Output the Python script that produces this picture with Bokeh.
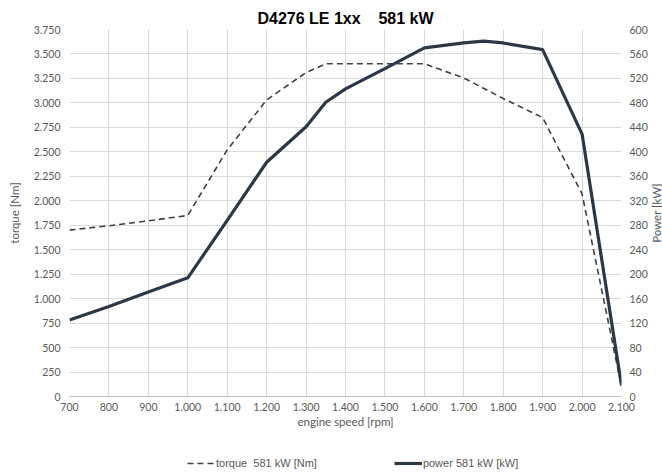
from bokeh.plotting import figure
from bokeh.models import Range1d, LinearAxis, FixedTicker, Legend, LegendItem, Title
from bokeh.layouts import column, row
from bokeh.embed import file_html
from bokeh.resources import INLINE

# ---- data ----
rpm_torque = [700, 800, 900, 1000, 1100, 1200, 1300, 1350, 1400, 1500, 1600, 1700, 1800, 1900, 2000, 2100]
torque_nm = [1700, 1745, 1795, 1850, 2520, 3030, 3310, 3400, 3400, 3400, 3400, 3255, 3045, 2850, 2070, 100]

rpm_power = [700, 800, 900, 1000, 1100, 1200, 1300, 1350, 1400, 1500, 1600, 1700, 1750, 1800, 1900, 2000, 2100]
power_kw = [125, 147, 171, 194, 288, 383, 441, 481, 503, 536, 570, 578, 581, 578, 567, 429, 18]

x_ticks = [700, 800, 900, 1000, 1100, 1200, 1300, 1400, 1500, 1600, 1700, 1800, 1900, 2000, 2100]
torque_ticks = [0, 250, 500, 750, 1000, 1250, 1500, 1750, 2000, 2250, 2500, 2750, 3000, 3250, 3500, 3750]
power_ticks = [0, 40, 80, 120, 160, 200, 240, 280, 320, 360, 400, 440, 480, 520, 560, 600]

title_text = "D4276 LE 1xx\u00a0\u00a0\u00a0 581 kW"
torque_label = "torque\u00a0 581 kW [Nm]"
power_label = "power 581 kW [kW]"
power_axis_title = "Power [kW]"


def dotted(v):
    return f"{v:,}".replace(",", ".")


GRID = "#d9d9d9"
TICK = "#595959"
FONT = "Lato"
TORQUE_STYLE = dict(line_color="#404040", line_width=1.6, line_dash="6 4")
POWER_STYLE = dict(line_color="#2d3846", line_width=3.2)

p = figure(width=650, height=440, output_backend="svg", toolbar_location=None,
           x_range=Range1d(700, 2100), y_range=Range1d(0, 3750),
           min_border_left=69, min_border_right=28, min_border_top=29, min_border_bottom=44)
p.extra_y_ranges = {"power": Range1d(0, 600)}

p.title.text = title_text
p.title.align = "center"
p.title.text_font = "Liberation Sans"
p.title.text_font_size = "16px"
p.title.text_font_style = "bold"
p.title.text_color = "#000000"
p.title.standoff = 6
p.title.offset = 4
p.outline_line_color = None

r_t = p.line(rpm_torque, torque_nm, **TORQUE_STYLE)
r_p = p.line(rpm_power, power_kw, y_range_name="power", **POWER_STYLE)

right = LinearAxis(y_range_name="power")
p.add_layout(right, "right")

p.xaxis.ticker = FixedTicker(ticks=x_ticks)
p.xaxis.major_label_overrides = {t: dotted(t) for t in x_ticks}
p.yaxis[0].ticker = FixedTicker(ticks=torque_ticks)
p.yaxis[0].major_label_overrides = {t: dotted(t) for t in torque_ticks}
right.ticker = FixedTicker(ticks=power_ticks)

p.xaxis.axis_label = "engine speed [rpm]"
p.yaxis[0].axis_label = "torque [Nm]"

for ax in p.xaxis + p.yaxis:
    ax.major_tick_line_color = None
    ax.minor_tick_line_color = None
    ax.major_tick_out = 0
    ax.major_tick_in = 0
    ax.axis_line_color = None
    ax.major_label_text_font = FONT
    ax.major_label_text_font_size = "10.5px"
    ax.major_label_text_color = TICK
    ax.axis_label_text_font = FONT
    ax.axis_label_text_font_size = "11.5px"
    ax.axis_label_text_color = TICK
    ax.axis_label_text_font_style = "normal"

p.xaxis.axis_line_color = "#bfbfbf"
p.xaxis.major_label_standoff = 6
p.xaxis.axis_label_standoff = 1
p.yaxis[0].major_label_standoff = 9
p.yaxis[0].axis_label_standoff = 10
right.major_label_standoff = 8

p.xgrid.ticker = FixedTicker(ticks=x_ticks)
p.ygrid.ticker = FixedTicker(ticks=torque_ticks)
p.xgrid.grid_line_color = GRID
p.ygrid.grid_line_color = GRID

# ---- right-hand axis title, reading bottom to top ----
side = figure(width=12, height=440, output_backend="svg", toolbar_location=None,
              min_border=0, min_border_top=29, min_border_bottom=44,
              x_axis_type=None, y_axis_type=None,
              x_range=Range1d(0, 1), y_range=Range1d(0, 1))
side.outline_line_color = None
side.grid.visible = False
side.add_layout(Title(text=power_axis_title, align="center", text_font=FONT,
                      text_font_size="11.5px", text_font_style="normal",
                      text_color=TICK, standoff=0, offset=0), "left")

# ---- legend strip below the chart (its lines lie outside its own view) ----
lg = figure(width=662, height=33, output_backend="svg", toolbar_location=None,
            min_border=0, x_axis_type=None, y_axis_type=None,
            x_range=Range1d(0, 1), y_range=Range1d(0, 1))
lg.outline_line_color = None
lg.grid.visible = False
l_t = lg.line(rpm_torque, torque_nm, **TORQUE_STYLE)
l_p = lg.line(rpm_power, power_kw, **POWER_STYLE)
legend = Legend(items=[LegendItem(label=torque_label, renderers=[l_t]),
                       LegendItem(label=power_label, renderers=[l_p])],
                orientation="horizontal", location=(187, 4),
                border_line_color=None, background_fill_alpha=0,
                spacing=77, glyph_width=28, glyph_height=12, label_height=12,
                label_standoff=1,
                label_text_font="Liberation Sans", label_text_font_size="11px",
                label_text_color=TICK, margin=0, padding=0)
lg.add_layout(legend, "center")

page = column(row(p, side, spacing=0), lg, spacing=0)
open("out.html", "w").write(file_html(page, INLINE))
